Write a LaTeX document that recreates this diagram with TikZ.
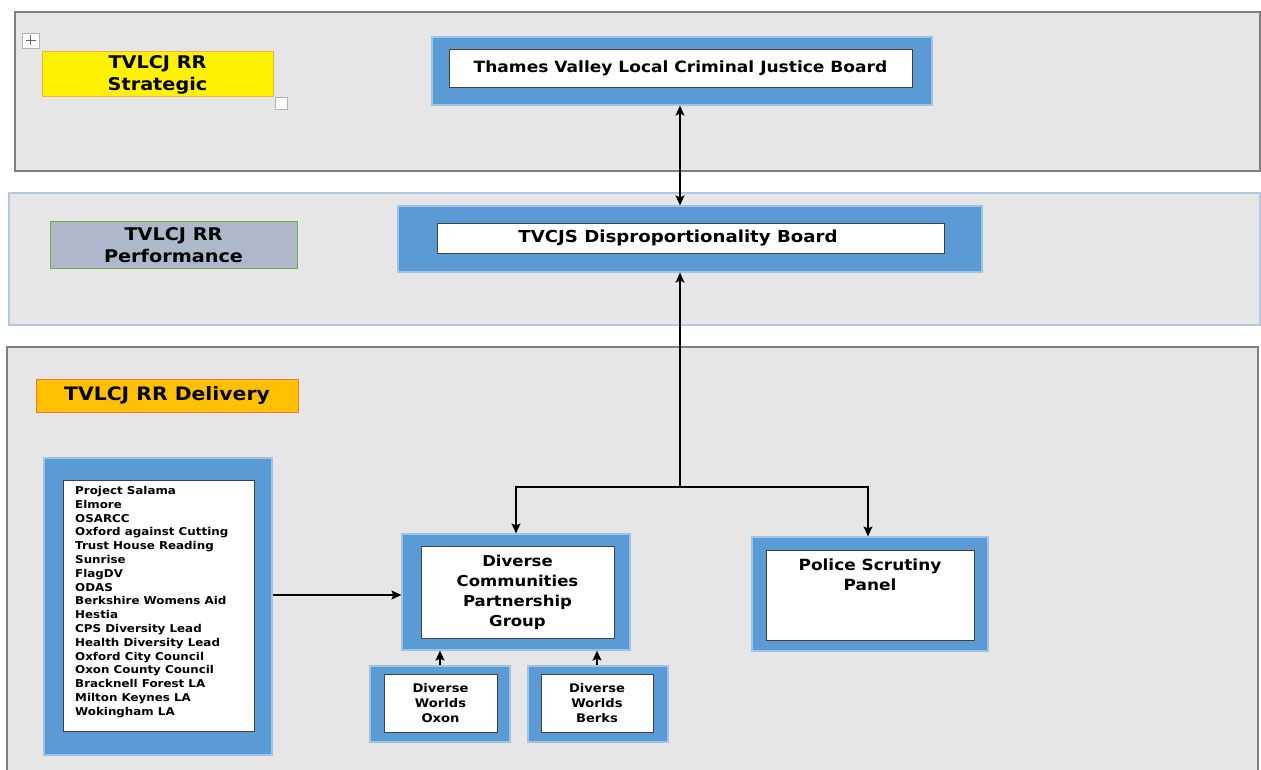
\documentclass[tikz,border=0pt]{standalone}
\usepackage{fontspec}
\setmainfont[FakeStretch=1.1]{DejaVu Sans}
\usetikzlibrary{arrows.meta}
\definecolor{bandgray}{HTML}{E6E6E6}
\definecolor{bandedge}{HTML}{7F7F7F}
\definecolor{perfedge}{HTML}{B4C7DC}
\definecolor{boxblue}{HTML}{5B9BD5}
\definecolor{halo}{HTML}{9DC3E6}
\definecolor{perffill}{HTML}{ADB9CA}
\definecolor{perfline}{HTML}{70AD47}
\definecolor{delfill}{HTML}{FFC000}
\definecolor{deledge}{HTML}{F4773A}
\definecolor{stratedge}{HTML}{F5B041}
\tikzset{
  band/.style={draw=bandedge, line width=1.6pt, fill=bandgray, anchor=north west, inner sep=0pt},
  outerbox/.style={draw=halo, line width=1.2pt, fill=boxblue, inner sep=0pt},
  innerbox/.style={draw=black!75, line width=0.8pt, fill=white, inner sep=0pt, align=center, font=\bfseries},
  lbl/.style={inner sep=0pt, align=center, font=\bfseries},
  arr/.style={-{Stealth[length=10pt,width=9pt,inset=2pt]}, line width=1.3pt, black},
  dblarr/.style={{Stealth[length=10pt,width=9pt,inset=2pt]}-{Stealth[length=10pt,width=9pt,inset=2pt]}, line width=1.3pt, black},
  handle/.style={draw=black!30, fill=white, line width=0.5pt, inner sep=0pt}
}
\begin{document}
\begin{tikzpicture}[x=1pt,y=-1pt]
\useasboundingbox[fill=white] (0,0) rectangle (1261,770);
% bands
\node[band, minimum width=1245, minimum height=159] (strat) at (14,11) {};
\node[band, draw=perfedge, minimum width=1251, minimum height=132] (perf) at (8,192) {};
\node[band, minimum width=1251, minimum height=430] (deliv) at (6,346) {};
% level labels
\node[draw=stratedge, line width=1pt, fill=yellow, minimum width=231, minimum height=45, lbl, font=\bfseries\fontsize{17.5}{22}\selectfont] (stratlbl) at (157.5,74.5) {TVLCJ RR\\Strategic};
\node[handle, minimum width=17, minimum height=15] (movehandle) at (30.5,40.5) {};
\draw[black!60, line width=0.5pt] ([xshift=-5]movehandle.center) -- ([xshift=5]movehandle.center);
\draw[black!60, line width=0.5pt] ([yshift=-5]movehandle.center) -- ([yshift=5]movehandle.center);
\node[handle, minimum width=12, minimum height=12] (sizehandle) at (281,103) {};
\node[draw=perfline, line width=1pt, fill=perffill, minimum width=247, minimum height=46, lbl, font=\bfseries\fontsize{17.5}{22}\selectfont] (perflbl) at (173.5,245) {TVLCJ RR\\Performance};
\node[draw=deledge, line width=1pt, fill=delfill, minimum width=262, minimum height=33, lbl, font=\bfseries\fontsize{18.5}{22}\selectfont] (dellbl) at (167,395.5) {TVLCJ RR Delivery};
% Thames Valley board
\node[outerbox, minimum width=500, minimum height=68] (tvo) at (682,71) {};
\node[innerbox, minimum width=463, minimum height=38, font=\bfseries\fontsize{15.5}{18}\selectfont] (tvi) at (680.5,68) {Thames Valley Local Criminal Justice Board};
% TVCJS
\node[outerbox, minimum width=584, minimum height=66] (dbo) at (690,239) {};
\node[innerbox, minimum width=507, minimum height=30] (dbi) at (690.5,238) {};
\node[lbl, font=\bfseries\fontsize{16.5}{18}\selectfont] (dbtxt) at (678,238) {TVCJS Disproportionality Board};
% Diverse Communities
\node[outerbox, minimum width=228, minimum height=116] (dco) at (516,592) {};
\node[innerbox, minimum width=193, minimum height=92, font=\bfseries\fontsize{15}{20}\selectfont] (dci) at (517.5,592) {Diverse\\Communities\\Partnership\\Group};
% Police
\node[outerbox, minimum width=236, minimum height=114] (pso) at (870,594) {};
\node[innerbox, minimum width=208, minimum height=90] (psi) at (870,595) {};
\node[lbl, anchor=north, font=\bfseries\fontsize{15.4}{20}\selectfont] (pstxt) at (870,559) {Police Scrutiny\\Panel};
% Diverse Worlds
\node[outerbox, minimum width=140, minimum height=76] (oxo) at (440,704) {};
\node[innerbox, minimum width=113, minimum height=58, font=\bfseries\fontsize{11.9}{15}\selectfont] (oxi) at (440.5,703) {Diverse\\Worlds\\Oxon};
\node[outerbox, minimum width=140, minimum height=76] (bko) at (598,704) {};
\node[innerbox, minimum width=112, minimum height=58, font=\bfseries\fontsize{11.9}{15}\selectfont] (bki) at (597,703) {Diverse\\Worlds\\Berks};
% list box
\node[outerbox, minimum width=228, minimum height=297] (lso) at (158,606.5) {};
\node[innerbox, minimum width=191, minimum height=251] (lsi) at (158.5,605.5) {};
\node[anchor=north west, inner sep=0pt, align=left, font=\bfseries\fontsize{10.8}{13.8}\selectfont] (lstxt) at (75,486) {Project Salama\\Elmore\\OSARCC\\Oxford against Cutting\\Trust House Reading\\Sunrise\\FlagDV\\ODAS\\Berkshire Womens Aid\\Hestia\\CPS Diversity Lead\\Health Diversity Lead\\Oxford City Council\\Oxon County Council\\Bracknell Forest LA\\Milton Keynes LA\\Wokingham LA};
% connectors
\coordinate (split) at (680,487);
\draw[dblarr] (tvo.south -| split) -- (dbo.north -| split);
\draw[arr] (split) -- (dbo.south -| split);
\draw[arr] (split) -| (dco.north);
\draw[arr] (split) -| (pso.north -| 868,0);
\draw[arr] (oxo.north) -- (oxo.north |- dco.south);
\draw[arr] (bko.north -| 597,0) -- (dco.south -| 597,0);
\draw[arr] (lso.east |- 0,595) -- (dco.west |- 0,595);
\end{tikzpicture}
\end{document}
